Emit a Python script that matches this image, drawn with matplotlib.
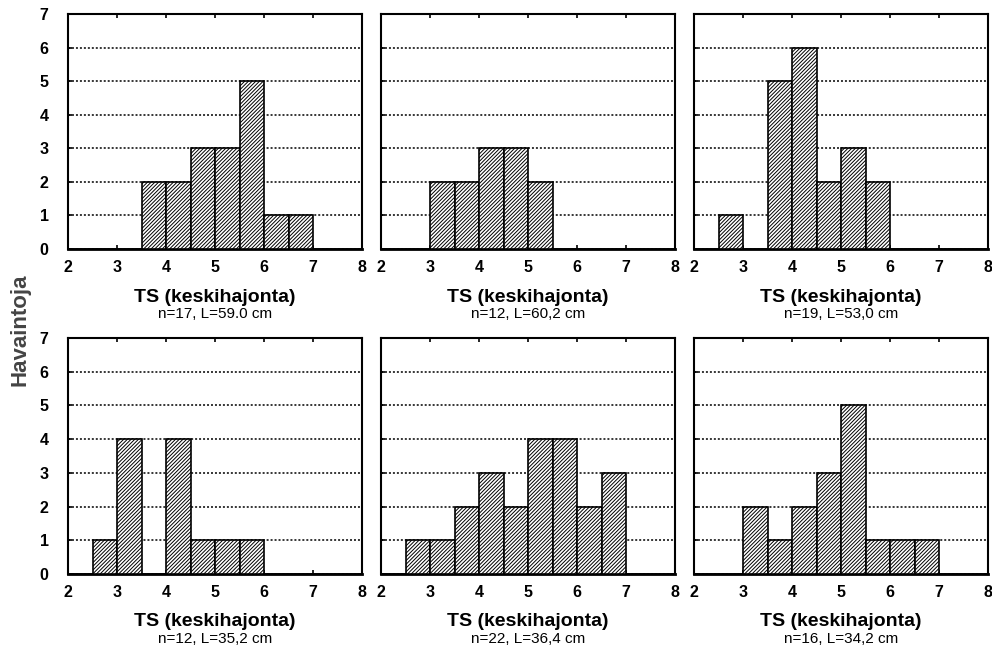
import matplotlib
matplotlib.use("Agg")
import matplotlib.pyplot as plt
import numpy as np

plt.rcParams['font.family'] = ['Liberation Sans', 'DejaVu Sans']
plt.rcParams['hatch.linewidth'] = 0.7

bin_edges = [2.0, 2.5, 3.0, 3.5, 4.0, 4.5, 5.0, 5.5, 6.0, 6.5, 7.0, 7.5, 8.0]
counts_p1 = [0, 0, 0, 2, 2, 3, 3, 5, 1, 1, 0, 0]
counts_p2 = [0, 0, 2, 2, 3, 3, 2, 0, 0, 0, 0, 0]
counts_p3 = [0, 1, 0, 5, 6, 2, 3, 2, 0, 0, 0, 0]
counts_p4 = [0, 1, 4, 0, 4, 1, 1, 1, 0, 0, 0, 0]
counts_p5 = [0, 1, 1, 2, 3, 2, 4, 4, 2, 3, 0, 0]
counts_p6 = [0, 0, 2, 1, 2, 3, 5, 1, 1, 1, 0, 0]
subtitles = ["n=17, L=59.0 cm", "n=12, L=60,2 cm", "n=19, L=53,0 cm",
             "n=12, L=35,2 cm", "n=22, L=36,4 cm", "n=16, L=34,2 cm"]
xlabel_text = "TS (keskihajonta)"
ylabel_text = "Havaintoja"
x_ticks = [2, 3, 4, 5, 6, 7, 8]
y_ticks = [0, 1, 2, 3, 4, 5, 6, 7]

all_counts = [counts_p1, counts_p2, counts_p3, counts_p4, counts_p5, counts_p6]

W, H = 992, 653
fig = plt.figure(figsize=(W / 100, H / 100), dpi=100)

col_left = [68, 381, 694]
col_w = 294
row_top = [14, 338]
row_h = [235, 236]

for i, counts in enumerate(all_counts):
    r, c = divmod(i, 3)
    ax = fig.add_axes([col_left[c] / W, 1 - (row_top[r] + row_h[r]) / H,
                       col_w / W, row_h[r] / H])
    left = np.array(bin_edges[:-1])
    widths = np.diff(bin_edges)
    ax.bar(left, counts, width=widths, align='edge', color='white',
           edgecolor='black', linewidth=1.2, hatch='/' * 9, zorder=3)
    ax.set_xlim(2, 8)
    ax.set_ylim(0, 7)
    ax.set_xticks(x_ticks)
    ax.set_yticks(y_ticks)
    ax.set_xticklabels([str(t) for t in x_ticks], fontsize=11.5, fontweight='bold')
    if c == 0:
        ax.set_yticklabels([str(t) for t in y_ticks], fontsize=11.5, fontweight='bold')
    else:
        ax.set_yticklabels([])
    ax.tick_params(axis='x', direction='in', length=3, width=1.2, top=True,
                   pad=8)
    ax.tick_params(axis='y', direction='in', length=3, width=1.2, right=False,
                   pad=14)
    ax.yaxis.grid(True, color='black', linestyle=(0, (1.3, 1.3)), linewidth=1.1,
                  zorder=1)
    ax.set_axisbelow(True)
    for s in ax.spines.values():
        s.set_linewidth(1.5)
    ax.spines['bottom'].set_linewidth(2.0)
    ax.annotate(xlabel_text, xy=(0.5, 0), xycoords='axes fraction',
                xytext=(0, -48), textcoords='offset pixels', ha='center',
                va='center', fontsize=14, fontweight='bold')
    ax.annotate(subtitles[i], xy=(0.5, 0), xycoords='axes fraction',
                xytext=(0, -65), textcoords='offset pixels', ha='center',
                va='center', fontsize=11)

fig.text(20 / W, 1 - 330 / H, ylabel_text, rotation=90, ha='center',
         va='center', fontsize=16, fontweight='bold', color='#444444')

fig.savefig("out.png", dpi=100)
